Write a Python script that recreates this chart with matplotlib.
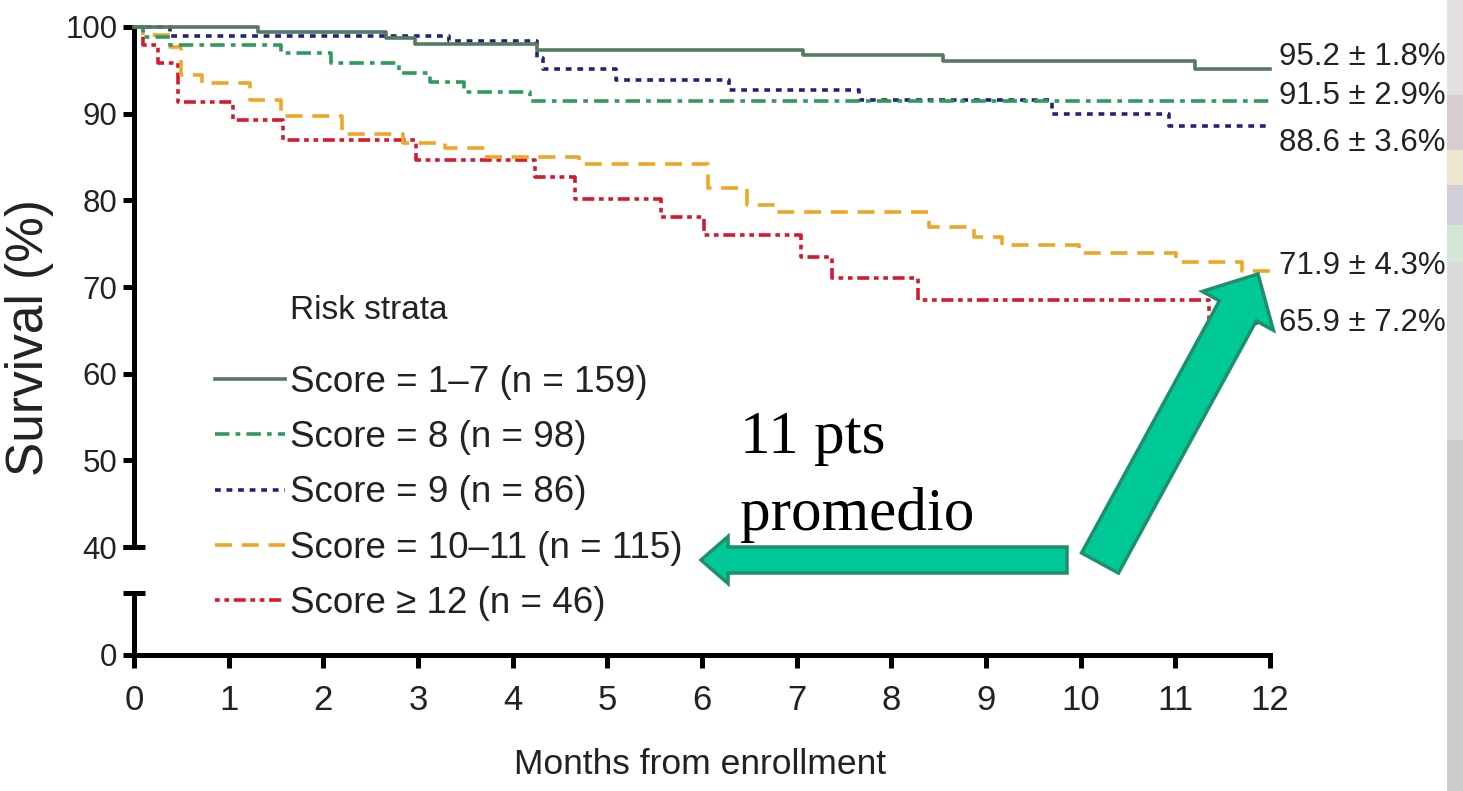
import matplotlib
matplotlib.use("Agg")
import matplotlib.pyplot as plt
from matplotlib import font_manager as fm
from matplotlib.patches import FancyArrow, Rectangle

# fuentes (la version estrecha puede no estar instalada)
avail = {f.name for f in fm.fontManager.ttflist}
HAY_NARROW = 'Liberation Sans Narrow' in avail
SANS = 'Liberation Sans Narrow' if HAY_NARROW else 'Liberation Sans'
esc = 1.2 if HAY_NARROW else 1.0   # la estrecha necesita mas tamaño para el mismo ancho
SERIF = 'Liberation Serif'

# datos (Kaplan-Meier)
t_1_7 = [0, 1.31, 2.66, 2.97, 4.26, 7.07, 8.55, 11.21, 12]
s_1_7 = [100, 99.4, 98.7, 98.0, 97.4, 96.8, 96.1, 95.2, 95.2]

t_8 = [0, 0.1, 0.38, 1.55, 2.08, 2.8, 3.13, 3.49, 4.18, 12]
s_8 = [100, 98.9, 97.9, 97.0, 95.8, 94.7, 93.7, 92.5, 91.5, 91.5]

t_9 = [0, 0.38, 3.33, 4.26, 4.32, 5.09, 6.28, 7.66, 9.70, 10.93, 12]
s_9 = [100, 99.0, 98.4, 96.4, 95.1, 93.9, 92.7, 91.6, 90.0, 88.6, 88.6]

t_10_11 = [0, 0.1, 0.38, 0.5, 0.72, 1.23, 1.55, 2.2, 2.84, 3.28, 3.73, 4.7,
           6.06, 6.48, 6.77, 8.4, 8.87, 9.17, 9.98, 11.01, 11.7, 12]
s_10_11 = [100, 99.1, 97.7, 94.5, 93.5, 91.6, 89.7, 87.7, 86.6, 86.0, 85.0, 84.2,
           81.4, 79.5, 78.6, 76.9, 75.8, 74.9, 73.9, 72.9, 71.9, 71.9]

t_12 = [0, 0.1, 0.25, 0.46, 1.05, 1.57, 2.98, 4.24, 4.66, 5.57, 6.02, 7.05,
        7.37, 8.28, 11.36, 12]
s_12 = [100, 97.9, 95.8, 91.4, 89.3, 87.0, 84.7, 82.7, 80.2, 78.1, 76.0, 73.5,
        71.0, 68.5, 65.9, 65.9]

etiquetas = ['Score = 1\u20137 (n = 159)', 'Score = 8 (n = 98)', 'Score = 9 (n = 86)',
             'Score = 10\u201311 (n = 115)', 'Score \u2265 12 (n = 46)']
colores = ['#557a62', '#2f9a5c', '#22227a', '#f0a526', '#d51a2e']
estilos = [None, (4, 1.7, 1.3, 1.7), (1.6, 1.6), (4.7, 2.7), (1.3, 1.3, 1.3, 1.3, 3.3, 1.3)]

finales = ['95.2 \u00b1 1.8%', '91.5 \u00b1 2.9%', '88.6 \u00b1 3.6%', '71.9 \u00b1 4.3%', '65.9 \u00b1 7.2%']
finales_y = [96.5, 92.0, 86.6, 72.4, 65.85]

meses = list(range(0, 13))
Y0 = 27.54          # posicion del "0" en el eje roto
Y_CORTE = 34.69     # fin del tramo inferior del eje
yticks = [Y0, 40, 50, 60, 70, 80, 90, 100]
ylabels = ['0', '40', '50', '60', '70', '80', '90', '100']

fig = plt.figure(figsize=(14.63, 7.91), dpi=100)
ax = fig.add_axes([134 / 1463, 1 - 655 / 791, 1136 / 1463, 628 / 791])

curvas = [(t_1_7, s_1_7), (t_8, s_8), (t_9, s_9), (t_10_11, s_10_11), (t_12, s_12)]
lineas = []
for i in [4, 3, 2, 1, 0]:
    t, s = curvas[i]
    ln, = ax.step(t, s, where='post', color=colores[i], lw=2.6, clip_on=False,
                  label=etiquetas[i], zorder=3 + (4 - i))
    if estilos[i] is not None:
        ln.set_dashes(estilos[i])
    lineas.append(ln)
lineas = lineas[::-1]

ax.set_xlim(0, 12)
ax.set_ylim(Y0, 100)
for lado in ['top', 'right', 'left']:
    ax.spines[lado].set_visible(False)
ax.spines['bottom'].set_linewidth(3.6)

# eje y roto
kw = dict(color='black', lw=3.6, clip_on=False, solid_capstyle='butt', zorder=2)
ax.plot([0, 0], [40, 100], **kw)
ax.plot([0, 0], [Y0, Y_CORTE], **kw)
ax.plot([-0.12, 0.12], [40, 40], **kw)
ax.plot([-0.12, 0.12], [Y_CORTE, Y_CORTE], **kw)

ax.set_xticks(meses)
ax.set_xticklabels([str(m) for m in meses], fontfamily=SANS, fontsize=25 * esc, color='#222222')
ax.set_yticks(yticks)
ax.set_yticklabels(ylabels, fontfamily=SANS, fontsize=22.5 * esc, color='#222222')
ax.tick_params(axis='x', length=9, width=3.6, pad=12)
ax.tick_params(axis='y', length=8, width=3.6, pad=4)

ax.set_xlabel('Months from enrollment', fontfamily=SANS, fontsize=25.5 * esc, color='#222222')
ax.xaxis.set_label_coords(0.498, -0.148)
ax.set_ylabel('Survival (%)', fontfamily='Liberation Sans', fontsize=37, color='#222222')
ax.yaxis.set_label_coords(-0.07, 0.506)

# valores al final de cada curva
for txt, yv in zip(finales, finales_y):
    ax.text(12.1, yv, txt, ha='left', va='center', fontfamily=SANS, fontsize=22.5 * esc,
            color='#222222', clip_on=False)

# leyenda
ax.text(290 / 1463, 1 - 310 / 791, 'Risk strata', transform=fig.transFigure,
        ha='left', va='center', fontfamily=SANS, fontsize=24 * esc, color='#222222')
leg = ax.legend(handles=lineas, loc='upper left', bbox_to_anchor=(215 / 1463, 1 - 365 / 791),
                bbox_transform=fig.transFigure, frameon=False, borderpad=0, borderaxespad=0,
                handlelength=1.9, handletextpad=0.14, labelspacing=0.55,
                prop={'family': SANS, 'size': 26.5 * esc})
for tx in leg.get_texts():
    tx.set_color('#222222')

# capa de anotaciones en pixeles
ov = fig.add_axes([0, 0, 1, 1], zorder=10)
ov.set_xlim(0, 1463)
ov.set_ylim(791, 0)
ov.axis('off')

bandas = [(0, 95, '#e4e0e2'), (95, 150, '#d6cdd1'), (150, 185, '#eee7cf'),
          (185, 225, '#d3cfd8'), (225, 262, '#d4e6d4'), (262, 440, '#dadada'),
          (440, 791, '#cdcdcd')]
for y0, y1, c in bandas:
    ov.add_patch(Rectangle((1447, y0), 16, y1 - y0, color=c, lw=0))

verde = '#00c896'
borde = '#1d8f6b'
ov.add_patch(FancyArrow(1067, 560, 701 - 1067, 0, width=26, head_width=47, head_length=27,
                        length_includes_head=True, facecolor=verde, edgecolor=borde, lw=2.5))
ov.add_patch(FancyArrow(1100, 563, 1258 - 1100, 274 - 563, width=42, head_width=81,
                        head_length=42, length_includes_head=True, facecolor=verde,
                        edgecolor=borde, lw=2.5))

ov.text(740, 453, '11 pts', fontfamily=SERIF, fontsize=44, ha='left', va='baseline', color='black')
ov.text(740, 530, 'promedio', fontfamily=SERIF, fontsize=44, ha='left', va='baseline', color='black')

fig.savefig('out.png', dpi=100)
